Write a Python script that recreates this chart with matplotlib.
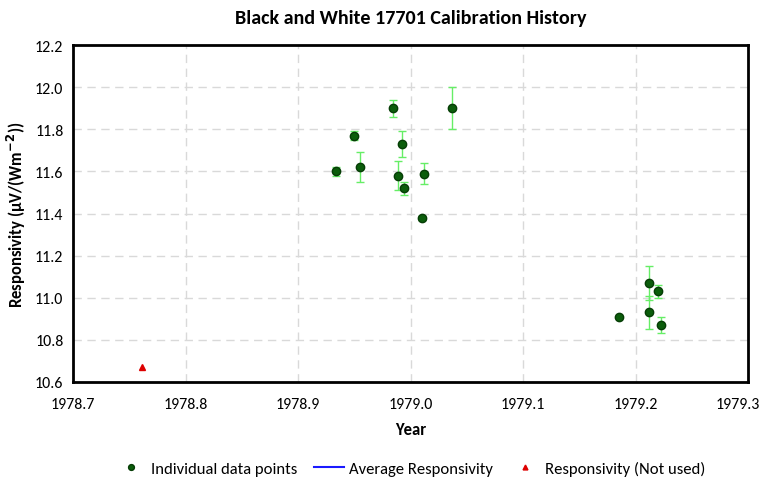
import numpy as np
import matplotlib
matplotlib.use("Agg")
import matplotlib.pyplot as plt
from matplotlib import font_manager

names = {f.name for f in font_manager.fontManager.ttflist}
base = 'Carlito' if 'Carlito' in names else 'Lato'
plt.rcParams['font.family'] = [base, 'DejaVu Sans']

# individual calibration points (year, responsivity, error)
years = [1978.934, 1978.950, 1978.955, 1978.984, 1978.992, 1978.989,
         1978.994, 1979.012, 1979.010, 1979.037,
         1979.185, 1979.212, 1979.212, 1979.220, 1979.222]
resp = [11.60, 11.77, 11.62, 11.90, 11.73, 11.58,
        11.52, 11.59, 11.38, 11.90,
        10.91, 11.07, 10.93, 11.03, 10.87]
errs = [0.02, 0.02, 0.07, 0.04, 0.06, 0.07,
        0.03, 0.05, 0.01, 0.10,
        0.005, 0.08, 0.08, 0.03, 0.04]

# not used point
nu_years = [1978.761]
nu_resp = [10.67]

fig = plt.figure(figsize=(7.62, 4.81), dpi=100)
ax = fig.add_axes([0.096, 0.204, 0.886, 0.700])

ax.errorbar(years, resp, yerr=errs, fmt='none', ecolor='#66ee66',
            elinewidth=1, capsize=3, capthick=1, zorder=2)
ax.plot(years, resp, 'o', color='#0b5d0b', markeredgecolor='#063d06',
        markersize=6, zorder=3, label='Individual data points')
ax.plot([], [], '-', color='#1a1aff', lw=1.5, label='Average Responsivity')
ax.plot(nu_years, nu_resp, '^', color='#dd0000', markersize=5, zorder=3,
        label='Responsivity (Not used)')

ax.set_xlim(1978.7, 1979.3)
ax.set_ylim(10.6, 12.2)
ax.set_xticks(np.arange(1978.7, 1979.31, 0.1))
ax.set_yticks(np.arange(10.6, 12.21, 0.2))
ax.xaxis.set_major_formatter(plt.FormatStrFormatter('%.1f'))
ax.yaxis.set_major_formatter(plt.FormatStrFormatter('%.1f'))
tick_size = 11.5 if base == 'Carlito' else 9.5
ax.tick_params(labelsize=tick_size, length=0)
ax.tick_params(axis='x', pad=11)
ax.tick_params(axis='y', pad=7)
ax.grid(True, ls=(0, (6, 4)), color='#d9d9d9', lw=1)
ax.set_axisbelow(True)
for s in ax.spines.values():
    s.set_linewidth(2)
    s.set_color('black')

ax.set_title('Black and White 17701 Calibration History', fontsize=14.5,
             fontweight='bold', pad=16)
ax.set_xlabel('Year', fontsize=12, fontweight='bold', labelpad=7)
ax.set_ylabel('Responsivity (µV/(Wm$^{\\mathbf{-2}}$))', fontsize=12, fontweight='bold',
              labelpad=5)

ax.legend(loc='upper center', bbox_to_anchor=(0.5, -0.19), ncol=3, frameon=False,
          fontsize=12, handlelength=1.8, handletextpad=0.3, columnspacing=1.0,
          markerscale=0.7)

fig.canvas.draw()
# keep the last x tick label inside the picture
last = ax.get_xticklabels()[-1]
bb = last.get_window_extent()
over = bb.x1 - (fig.bbox.width - 2)
if over > 0:
    from matplotlib.transforms import ScaledTranslation
    last.set_transform(last.get_transform() + ScaledTranslation(-over / 100, 0, fig.dpi_scale_trans))

fig.savefig('out.png', dpi=100)
